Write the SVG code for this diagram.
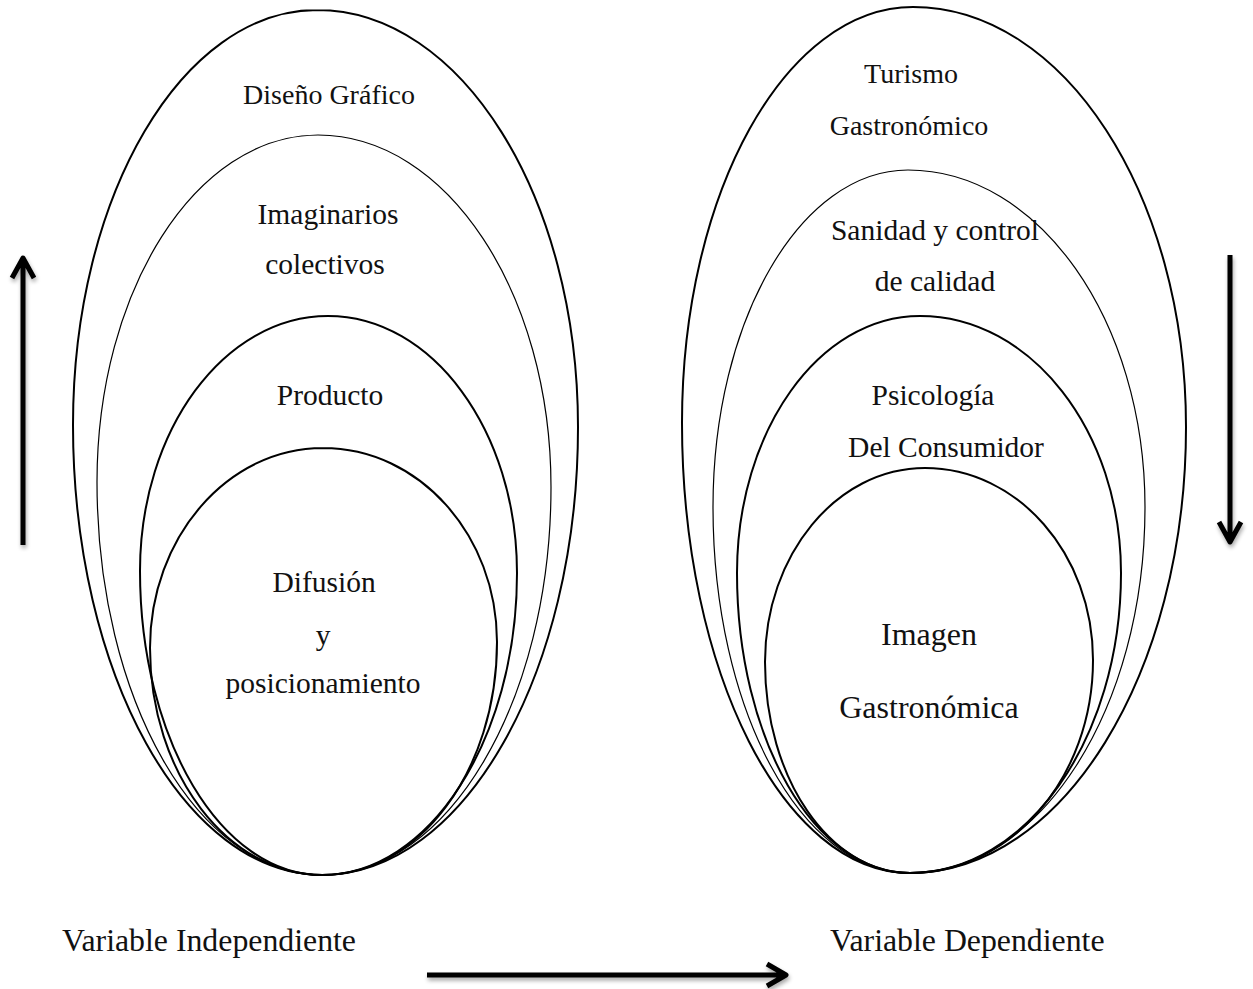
<svg xmlns="http://www.w3.org/2000/svg" width="1253" height="989" viewBox="0 0 1253 989">
<style>
.ov{fill:none;stroke:#000;stroke-width:2}
.thin{fill:none;stroke:#000;stroke-width:1.2}
.t{font-family:"Liberation Serif","Times New Roman",serif;font-size:29.5px;fill:#111;text-anchor:middle}
.big{font-size:32px}
.sm{font-size:28px}
.tl{font-family:"Liberation Serif","Times New Roman",serif;font-size:31.8px;fill:#111}
.ar{fill:none;stroke:#000;stroke-width:5;stroke-linejoin:round;stroke-linecap:butt}
</style>
<defs>
<filter id="sh" x="-20%" y="-20%" width="140%" height="140%">
<feGaussianBlur in="SourceAlpha" stdDeviation="2"/>
<feOffset dx="1" dy="3" result="b"/>
<feComponentTransfer><feFuncA type="linear" slope="0.35"/></feComponentTransfer>
<feMerge><feMergeNode/><feMergeNode in="SourceGraphic"/></feMerge>
</filter>
</defs>
<rect width="1253" height="989" fill="#fff"/>
<g id="diseno-grafico">
<path class="ov" d="M317,10 C182.2,10 73,195.8 73,425 C73,673.5 185,875 322,875 C463,875 578,674.4 578,427 C578,196.7 461.1,10 317,10 Z"/>
<text class="t sm" x="329" y="104">Diseño Gráfico</text>
</g>
<g id="imaginarios-colectivos">
<path class="thin" d="M318,135 C195.9,135 97,290.4 97,482 C97,699.1 198,875 322,875 C448,875 551,701.3 551,487 C551,292.6 446.7,135 318,135 Z"/>
<text class="t" x="328" y="224">Imaginarios</text>
<text class="t" x="325" y="274">colectivos</text>
</g>
<g id="producto">
<path class="ov" d="M328,316 C224.2,316 140,430.2 140,571 C140,738.9 221,875 322,875 C429,875 517,739.8 517,573 C517,431.1 432.4,316 328,316 Z"/>
<text class="t" x="330" y="405">Producto</text>
</g>
<g id="difusion">
<path class="ov" d="M323,448 C227.5,448 150,537.5 150,648 C150,773.4 228,875 323,875 C419,875 497,770.7 497,642 C497,534.9 419.1,448 323,448 Z"/>
<text class="t" x="324" y="592">Difusión</text>
<text class="t" x="323" y="645">y</text>
<text class="t" x="323" y="693">posicionamiento</text>
</g>
<g id="turismo-gastronomico">
<path class="ov" d="M913,7 C785.4,7 682,193.2 682,423 C682,671.5 784.1,873 910,873 C1062.4,873 1186,673.3 1186,427 C1186,195 1063.8,7 913,7 Z"/>
<text class="t sm" x="911" y="83">Turismo</text>
<text class="t sm" x="909" y="135">Gastronómico</text>
</g>
<g id="sanidad">
<path class="thin" d="M908,170 C800.3,170 713,320.9 713,507 C713,709.1 801.2,873 910,873 C1039.8,873 1145,709.1 1145,507 C1145,320.9 1038.9,170 908,170 Z"/>
<text class="t" x="935" y="240">Sanidad y control</text>
<text class="t" x="935" y="291">de calidad</text>
</g>
<g id="psicologia">
<path class="ov" d="M920,316 C818.9,316 737,431.1 737,573 C737,738.7 814.5,873 910,873 C1026.5,873 1121,738.7 1121,573 C1121,431.1 1031,316 920,316 Z"/>
<text class="t" x="933" y="405">Psicología</text>
<text class="t" x="946" y="457">Del Consumidor</text>
</g>
<g id="imagen-gastronomica">
<path class="ov" d="M925,468 C836.6,468 765,554.9 765,662 C765,778.5 829.9,873 910,873 C1011.1,873 1093,777.6 1093,660 C1093,554 1017.8,468 925,468 Z"/>
<text class="t big" x="929" y="645">Imagen</text>
<text class="t big" x="929" y="718">Gastronómica</text>
</g>
<g id="label-independiente">
<text class="tl" x="62" y="951">Variable Independiente</text>
</g>
<g id="label-dependiente">
<text class="tl" x="830" y="951">Variable Dependiente</text>
</g>
<g id="connectors" filter="url(#sh)">
<path class="ar" d="M23,545 L23,258 M12,278 L23,258 L34,278"/>
<path class="ar" d="M1230,255 L1230,542 M1219,522 L1230,542 L1241,522"/>
<path class="ar" d="M427,975 L786,975 M767,964 L786,975 L767,986"/>
</g>
</svg>
